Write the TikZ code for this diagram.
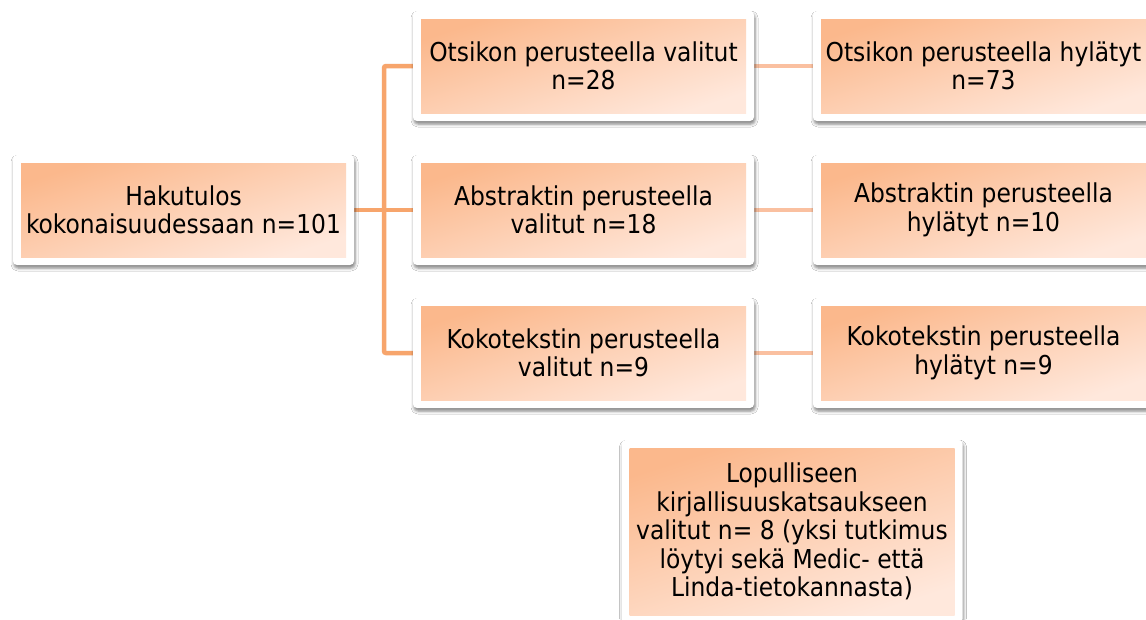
\documentclass[tikz,border=0pt]{standalone}
\usepackage{fontspec}
\setmainfont{DejaVu Sans Condensed}
\usetikzlibrary{shadows.blur,backgrounds}

\definecolor{linkmain}{RGB}{247,165,108}
\definecolor{linksoft}{RGB}{250,192,160}
\definecolor{fillhi}{RGB}{251,184,140}
\definecolor{filllo}{RGB}{255,232,220}

\tikzset{
  cardframe/.style={fill=white, rounded corners=4pt, inner sep=0pt,
    minimum width=341pt, minimum height=#1,
    blur shadow={shadow xshift=1pt, shadow yshift=-3pt,
      shadow blur radius=3pt, shadow opacity=50}},
  cardface/.style={inner sep=0pt, minimum width=325pt, minimum height=#1,
    top color=fillhi, bottom color=filllo, shading angle=18,
    align=center, font=\fontsize{26}{28.5}\selectfont, text=black},
  mainlink/.style={draw=linkmain, line width=4.5pt},
  softlink/.style={draw=linksoft, line width=4.5pt},
}

% one card: white frame with shadow, shaded face carrying the text
\newcommand{\card}[4]{%
  \node[cardframe=#4+16pt] (#1) at (#2) {};
  \node[cardface=#4] (#1-face) at (#2) {#3};
}

\begin{document}
\begin{tikzpicture}[x=1pt, y=-1pt]
  \useasboundingbox (0,0) rectangle (1146,619);
  \clip (0,0) rectangle (1146,619);

  \card{haku}{183.5,210}{Hakutulos\\kokonaisuudessaan n=101}{94pt}
  \card{otsv}{583.5,66}{Otsikon perusteella valitut\\n=28}{94pt}
  \card{absv}{583.5,210}{Abstraktin perusteella\\valitut n=18}{94pt}
  \card{kokov}{583.5,353}{Kokotekstin perusteella\\valitut n=9}{94pt}
  \card{otsh}{983.5,66}{Otsikon perusteella hylätyt\\n=73}{94pt}
  \card{absh}{983.5,210}{Abstraktin perusteella\\hylätyt n=10}{94pt}
  \card{kokoh}{983.5,353}{Kokotekstin perusteella\\hylätyt n=9}{94pt}
  \card{lopu}{792,531.5}{Lopulliseen\\kirjallisuuskatsaukseen\\valitut n= 8 (yksi tutkimus\\löytyi sekä Medic- että\\Linda-tietokannasta)}{167pt}

  \coordinate (fork) at (384,210);

  \begin{scope}[on background layer]
    \fill[white] (0,0) rectangle (1146,619);
    \draw[mainlink] (haku.east) -- (absv.west);
    \draw[mainlink, rounded corners=2pt] (otsv.west) -| (fork) |- (kokov.west);
    \draw[softlink] (otsv.east) -- (otsh.west);
    \draw[softlink] (absv.east) -- (absh.west);
    \draw[softlink] (kokov.east) -- (kokoh.west);
  \end{scope}
\end{tikzpicture}
\end{document}
